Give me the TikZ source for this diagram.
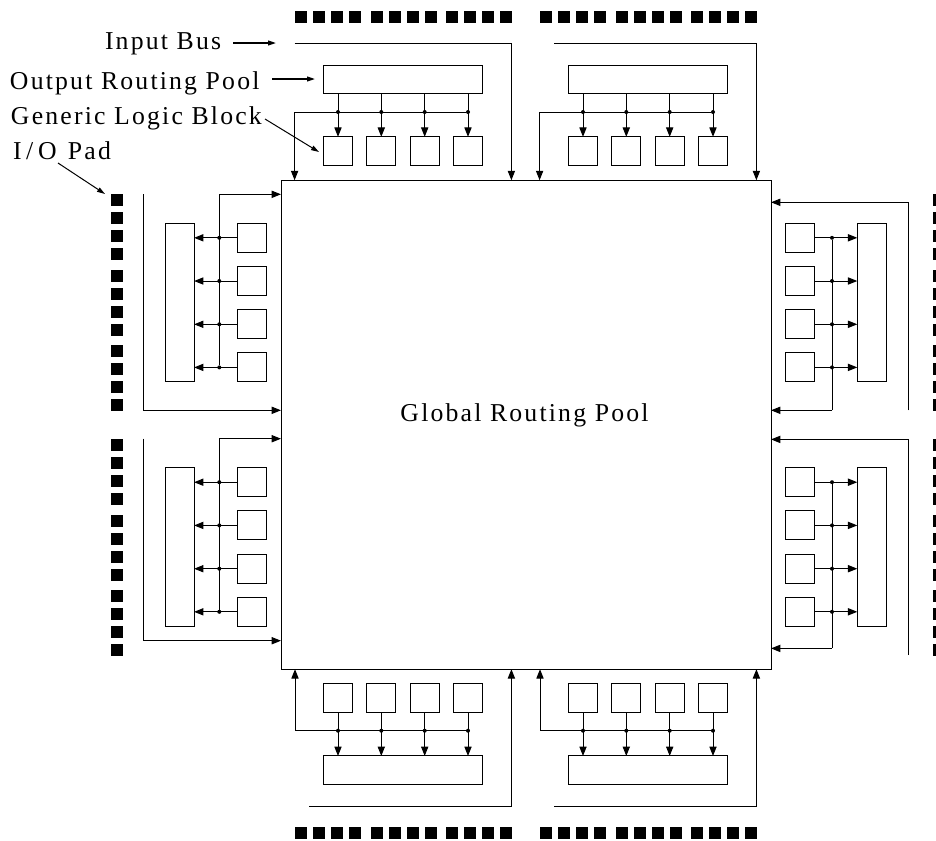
\documentclass[tikz,border=0pt]{standalone}
\usepackage{fontspec}
\setmainfont{Liberation Serif}[LetterSpace=8.5]
\usetikzlibrary{arrows.meta}
\tikzset{
  x=0.75pt,y=-0.75pt,
  wire/.style={draw=black,line width=0.75pt},
  arr/.style={wire,-{Triangle[length=7pt,width=5.4pt]},shorten >=0pt},
  callout/.style={wire,-{Triangle[length=6pt,width=3.6pt]}},
  sq/.style={draw=black,line width=0.75pt,fill=white,minimum width=21.75pt,minimum height=21.75pt,inner sep=0pt,outer sep=0pt},
  hbox/.style={draw=black,line width=0.75pt,fill=white,minimum width=119.25pt,minimum height=21.5pt,inner sep=0pt,outer sep=0pt},
  vbox/.style={draw=black,line width=0.75pt,fill=white,minimum width=21.75pt,minimum height=118.75pt,inner sep=0pt,outer sep=0pt},
  dot/.style={circle,fill=black,minimum size=3pt,inner sep=0pt,outer sep=0pt},
  pad/.style={fill=black,minimum width=9pt,minimum height=9pt,inner sep=0pt,outer sep=0pt},
  lbl/.style={anchor=base west,inner sep=0pt,outer sep=0pt,font=\fontsize{19.3pt}{22pt}\selectfont},
  pool/.style={draw=black,line width=0.75pt,minimum width=367.5pt,minimum height=366.75pt,inner sep=0pt,outer sep=0pt},
}
% #1 prefix, #2 x shift in px, #3 bus start x
\newcommand\TopBlock[3]{%
\begin{scope}[xshift=#2*0.75pt]
  \node[hbox] (#1o) at (402.8,79.6) {};
  \foreach \i/\x in {1/338,2/381.3,3/424.7,4/468} {
    \node[sq] (#1g\i) at (\x,151.3) {};
    \node[dot] (#1d\i) at (\x,112) {};
    \draw[arr] (#1o.south -| #1g\i.north) -- (#1g\i.north);
  }
  \coordinate (#1c) at (294.6,112);
  \coordinate (#1s) at (#3,43.5);
  \coordinate (#1k) at (511.4,43.5);
  \draw[wire] (#1d4) -- (#1c);
  \draw[arr] (#1c) -- (#1c |- pool.north);
  \draw[arr] (#1s) -- (#1k) -- (#1k |- pool.north);
\end{scope}}
\newcommand\BotBlock[3]{%
\begin{scope}[xshift=#2*0.75pt]
  \node[hbox] (#1o) at (402.8,770.3) {};
  \foreach \i/\x in {1/338,2/381.3,3/424.7,4/468} {
    \node[sq] (#1g\i) at (\x,698.2) {};
    \node[dot] (#1d\i) at (\x,730.7) {};
    \draw[arr] (#1g\i.south) -- (#1o.north -| #1g\i.south);
  }
  \coordinate (#1c) at (295,730.7);
  \coordinate (#1s) at (#3,806);
  \coordinate (#1k) at (511.4,806);
  \draw[wire] (#1d4) -- (#1c);
  \draw[arr] (#1c) -- (#1c |- pool.south);
  \draw[arr] (#1s) -- (#1k) -- (#1k |- pool.south);
\end{scope}}
% #1 prefix, #2 y shift (downward px), #3 top of riser, #4 lower bus y
\newcommand\LeftBlock[4]{%
\begin{scope}[yshift=-#2*0.75pt]
  \node[vbox] (#1o) at (179.6,302.5) {};
  \foreach \i/\y in {1/237.8,2/281,3/324.3,4/367.4} {
    \node[sq] (#1g\i) at (251.5,\y) {};
    \node[dot] (#1d\i) at (219.3,\y) {};
    \draw[arr] (#1g\i.west) -- (#1o.east |- #1g\i.west);
  }
  \coordinate (#1c) at (219.3,194.3);
  \coordinate (#1s) at (143.4,194.3);
  \coordinate (#1k) at (143.4,#4);
  \draw[wire] (#1d4) -- (#1c);
  \draw[arr] (#1c) -- (#1c -| pool.west);
  \draw[arr] (#1s) -- (#1k) -- (#1k -| pool.west);
\end{scope}}
% #1 prefix, #2 y shift, #3 bus top y, #4 bus bottom y, #5 riser bottom y
\newcommand\RightBlock[5]{%
\begin{scope}[yshift=-#2*0.75pt]
  \node[vbox] (#1o) at (871.8,302.5) {};
  \foreach \i/\y in {1/237.8,2/281,3/324.3,4/367.4} {
    \node[sq] (#1g\i) at (799.6,\y) {};
    \node[dot] (#1d\i) at (832,\y) {};
    \draw[arr] (#1g\i.east) -- (#1o.west |- #1g\i.east);
  }
  \coordinate (#1c) at (832,#5);
  \coordinate (#1s) at (908.3,#4);
  \coordinate (#1k) at (908.3,#3);
  \draw[wire] (#1d1) -- (#1c);
  \draw[arr] (#1c) -- (#1c -| pool.east);
  \draw[arr] (#1s) -- (#1k) -- (#1k -| pool.east);
\end{scope}}
\begin{document}
\begin{tikzpicture}
\useasboundingbox (0,0) rectangle (936,840);
\clip (0,0) rectangle (936,840);
\node[pool] (pool) at (526,424.7) {};
\node[lbl,anchor=base] (grp) at (524.5,421) {Global Routing Pool};

\TopBlock{ta}{0}{294.6}
\TopBlock{tb}{245}{309.3}
\BotBlock{ba}{0}{309.3}
\BotBlock{bb}{245}{309.3}
\LeftBlock{la}{0}{194.3}{410.3}
\LeftBlock{lb}{244.4}{194.3}{396.3}
\RightBlock{ra}{0}{202.3}{410.3}{410.3}
\RightBlock{rb}{244.4}{195}{410.6}{404}

% pads
\foreach \g/\x in {0/300.5,1/376.7,2/452,3/545.5,4/621.7,5/697}
  \foreach \d in {0,18,36,54} {
    \node[pad] (padT\g\d) at ({\x+\d},17) {};
    \node[pad] (padB\g\d) at ({\x+\d},833.3) {};
  }
\foreach \g/\y in {0/200.3,1/276,2/351.3,3/445,4/520.7,5/596}
  \foreach \d in {0,18,36,54} {
    \node[pad] (padL\g\d) at (116.7,{\y+\d}) {};
    \node[pad] (padR\g\d) at (938.7,{\y+\d}) {};
  }

% labels
\node[lbl] (lin) at (105,49) {Input Bus};
\node[lbl] (lor) at (10,89) {Output Routing Pool};
\node[lbl] (lgl) at (11,124) {Generic Logic Block};
\node[lbl] (lio) at (13,159) {I\kern3.5pt/\kern3.5pt O\kern2pt\ Pad};
\coordinate (ain) at (233,43);
\coordinate (bin) at (276,43);
\coordinate (aor) at (272,79);
\coordinate (bor) at (315,79);
\coordinate (agl) at (265,119);
\coordinate (bgl) at (319,152);
\coordinate (aio) at (58,163);
\coordinate (bio) at (105,194);
\draw[callout,line width=1.1pt] (ain) -- (bin);
\draw[callout,line width=1.1pt] (aor) -- (bor);
\draw[callout] (agl) -- (bgl);
\draw[callout] (aio) -- (bio);
\end{tikzpicture}
\end{document}
